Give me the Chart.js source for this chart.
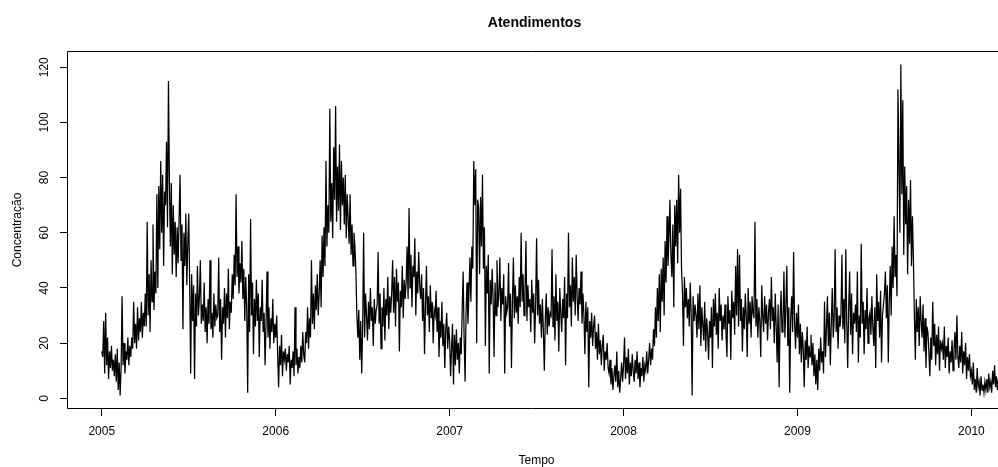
<!DOCTYPE html>
<html>
<head>
<meta charset="utf-8">
<title>Atendimentos</title>
<script src="https://cdn.jsdelivr.net/npm/chart.js@4.4.1/dist/chart.umd.min.js"></script>
<style>
    html, body { margin: 0; padding: 0; background: #fff; }
    canvas { display: block; }
</style>
</head>
<body>
<canvas id="serieChart" width="998" height="467"></canvas>
<script>
// atendimentos, leitura a cada 2 dias; um vetor por mes
var firstYear = 2005;

var y2005 = [
    [17, 15, 28, 9, 31, 12, 22, 7, 17, 11, 19, 10, 14, 8, 16],
    [6, 18, 3, 13, 1, 11, 37, 12, 20, 9, 17, 14, 22, 12, 19],
    [15, 22, 18, 35, 20, 27, 18, 33, 21, 29, 24, 35, 22, 31, 26],
    [38, 26, 64, 30, 45, 24, 50, 35, 63, 32, 46, 38, 74, 40, 77],
    [54, 86, 60, 81, 48, 75, 70, 93, 62, 115, 79, 55, 78, 45, 70],
    [52, 64, 44, 62, 49, 65, 81, 50, 63, 25, 60, 48, 67, 41, 56],
    [67, 40, 9, 45, 28, 41, 7, 38, 26, 48, 30, 36, 50, 27, 34],
    [28, 42, 24, 33, 20, 36, 27, 50, 25, 31, 22, 38, 26, 34, 29],
    [30, 51, 24, 36, 14, 33, 27, 40, 22, 38, 29, 47, 25, 35, 31],
    [45, 36, 52, 41, 74, 44, 55, 38, 49, 42, 57, 36, 47, 28, 44],
    [33, 2, 45, 24, 65, 30, 42, 16, 36, 26, 43, 28, 38, 15, 33],
    [28, 43, 24, 31, 12, 27, 46, 22, 33, 18, 29, 24, 36, 20, 27]
];

var y2006 = [
    [22, 30, 16, 4, 19, 12, 23, 8, 17, 14, 18, 10, 16, 13, 19],
    [5, 14, 11, 17, 8, 33, 12, 18, 9, 15, 11, 19, 13, 24, 16],
    [13, 24, 20, 33, 18, 29, 22, 50, 27, 38, 25, 41, 32, 45, 30],
    [38, 50, 33, 59, 44, 62, 48, 86, 55, 70, 60, 105, 64, 78, 58],
    [91, 72, 106, 64, 84, 68, 92, 61, 86, 70, 80, 63, 81, 58, 74],
    [65, 56, 74, 52, 63, 48, 60, 55, 46, 30, 22, 32, 14, 28, 9],
    [26, 60, 22, 38, 30, 21, 35, 25, 40, 28, 33, 19, 36, 27, 32],
    [34, 53, 27, 38, 18, 33, 26, 40, 21, 36, 30, 44, 25, 37, 31],
    [38, 50, 31, 44, 26, 47, 35, 42, 17, 39, 33, 48, 29, 43, 36],
    [42, 55, 36, 69, 40, 52, 33, 48, 44, 58, 30, 46, 38, 53, 41],
    [36, 45, 28, 40, 16, 33, 48, 30, 37, 24, 41, 29, 35, 20, 32],
    [30, 39, 24, 33, 15, 28, 22, 35, 19, 27, 11, 25, 31, 18, 26]
];

var y2007 = [
    [21, 8, 18, 27, 5, 23, 12, 25, 14, 20, 9, 22, 16, 32, 46],
    [22, 6, 31, 42, 27, 38, 51, 35, 55, 47, 86, 70, 83, 20, 72],
    [69, 45, 73, 55, 81, 47, 62, 19, 48, 38, 52, 9, 43, 34, 47],
    [36, 15, 42, 30, 50, 33, 38, 51, 28, 40, 34, 45, 9, 37, 31],
    [33, 49, 26, 38, 11, 35, 51, 29, 41, 31, 37, 27, 44, 33, 60],
    [35, 45, 30, 39, 57, 28, 41, 33, 36, 24, 43, 31, 38, 20, 34],
    [58, 30, 43, 27, 34, 22, 36, 25, 10, 29, 38, 23, 33, 26, 31],
    [30, 54, 26, 37, 21, 45, 28, 35, 17, 40, 31, 24, 36, 29, 44],
    [12, 38, 29, 60, 33, 41, 26, 51, 35, 44, 30, 52, 37, 28, 40],
    [34, 46, 27, 38, 30, 16, 35, 24, 33, 4, 28, 22, 31, 19, 26],
    [30, 18, 24, 14, 27, 16, 21, 12, 19, 23, 10, 17, 14, 20, 11],
    [9, 14, 5, 11, 3, 8, 12, 6, 17, 4, 10, 2, 7, 13, 6]
];

var y2008 = [
    [12, 22, 7, 15, 9, 18, 5, 13, 8, 16, 10, 6, 14, 9, 17],
    [7, 13, 4, 11, 8, 15, 6, 12, 10, 17, 9, 14, 20, 12, 18],
    [14, 25, 19, 33, 22, 40, 28, 45, 24, 47, 35, 51, 30, 57, 42],
    [66, 48, 58, 72, 52, 44, 63, 33, 70, 55, 72, 49, 81, 60, 76],
    [47, 38, 19, 44, 33, 40, 29, 36, 26, 42, 31, 1, 37, 28, 34],
    [30, 22, 38, 25, 41, 19, 33, 27, 21, 35, 17, 29, 24, 14, 28],
    [22, 33, 11, 36, 26, 38, 23, 31, 18, 40, 28, 34, 21, 30, 25],
    [34, 24, 15, 37, 27, 32, 14, 39, 29, 35, 23, 48, 30, 54, 26],
    [52, 28, 36, 17, 33, 25, 38, 30, 15, 40, 27, 35, 22, 37, 31],
    [29, 64, 26, 36, 22, 33, 28, 15, 41, 30, 24, 37, 27, 34, 21],
    [31, 36, 25, 44, 28, 33, 20, 38, 26, 13, 34, 4, 29, 39, 24],
    [27, 46, 22, 34, 48, 19, 33, 2, 29, 37, 24, 53, 28, 18, 31]
];

var y2009 = [
    [22, 34, 16, 27, 13, 24, 18, 4, 21, 14, 26, 11, 19, 15, 23],
    [12, 20, 8, 16, 5, 14, 3, 18, 10, 22, 13, 17, 9, 35, 15],
    [25, 37, 19, 31, 12, 27, 40, 22, 29, 54, 24, 33, 18, 30, 26],
    [30, 52, 25, 36, 20, 54, 28, 11, 33, 46, 23, 38, 16, 31, 27],
    [34, 24, 46, 13, 30, 22, 56, 27, 35, 16, 32, 25, 40, 20, 29],
    [31, 23, 37, 26, 19, 33, 11, 45, 28, 35, 22, 39, 13, 30, 34],
    [38, 46, 29, 41, 13, 35, 48, 30, 55, 40, 66, 44, 52, 37, 112],
    [85, 60, 121, 74, 108, 52, 84, 63, 77, 45, 72, 56, 79, 48, 66],
    [50, 30, 14, 36, 24, 33, 19, 37, 28, 22, 34, 17, 29, 11, 26],
    [24, 17, 8, 22, 14, 35, 19, 27, 12, 23, 16, 26, 10, 21, 18],
    [20, 14, 26, 11, 19, 15, 22, 9, 17, 13, 21, 10, 18, 24, 14],
    [30, 15, 11, 19, 13, 24, 9, 17, 12, 20, 7, 15, 10, 16, 8]
];

var y2010 = [
    [10, 5, 13, 3, 7, 2, 11, 4, 6, 1, 8, 3, 5, 2, 6],
    [3, 7, 2, 9, 4, 6, 2, 10, 5, 12, 4, 8, 3, 7, 5]
];

var tickYears = [2005, 2006, 2007, 2008, 2009, 2010];
var tickValues = [0, 20, 40, 60, 80, 100, 120];

var fontFam = "'Liberation Sans', Arial, Helvetica, sans-serif";

// cada mes ocupa 1/12 do ano, leituras espalhadas dentro dele
var points = [];
[y2005, y2006, y2007, y2008, y2009, y2010].forEach(function (months, k) {
    months.forEach(function (vals, m) {
        vals.forEach(function (v, j) {
            points.push({ x: firstYear + k + (m + j / vals.length) / 12, y: v });
        });
    });
});

// caixa do grafico e textos (titulo, eixos)
var moldura = {
    id: 'moldura',
    afterDraw: function (chart) {
        var ctx = chart.ctx;
        var a = chart.chartArea;
        ctx.save();
        ctx.strokeStyle = '#000';
        ctx.lineWidth = 1;
        ctx.beginPath();
        ctx.moveTo(chart.width, a.top + 0.5);
        ctx.lineTo(a.left + 0.5, a.top + 0.5);
        ctx.lineTo(a.left + 0.5, a.bottom - 0.5);
        ctx.lineTo(chart.width, a.bottom - 0.5);
        ctx.stroke();

        ctx.fillStyle = '#000';
        ctx.textAlign = 'center';
        ctx.textBaseline = 'alphabetic';
        ctx.font = 'bold 14px ' + fontFam;
        ctx.fillText('Atendimentos', 534.5, 27);

        ctx.font = '12px ' + fontFam;
        ctx.fillText('Tempo', 536.5, 464);

        ctx.translate(21, (a.top + a.bottom) / 2);
        ctx.rotate(-Math.PI / 2);
        ctx.fillText('Concentração', 0, 0);
        ctx.restore();
    }
};

new Chart(document.getElementById('serieChart'), {
    type: 'line',
    data: {
        datasets: [{
            data: points,
            borderColor: '#000',
            borderWidth: 1.25,
            pointRadius: 0,
            fill: false,
            tension: 0
        }]
    },
    options: {
        responsive: false,
        animation: false,
        layout: { padding: { top: 51, left: 0, right: 0, bottom: 0 } },
        plugins: {
            legend: { display: false },
            tooltip: { enabled: false }
        },
        scales: {
            x: {
                type: 'linear',
                min: 2004.8,
                max: 2010.153,
                afterBuildTicks: function (s) {
                    s.ticks = tickYears.map(function (v) { return { value: v }; });
                },
                afterFit: function (s) { s.height = 58; },
                grid: { drawOnChartArea: false, drawTicks: true, tickLength: 7, color: '#000', lineWidth: 1 },
                border: { display: false },
                ticks: {
                    padding: 8,
                    color: '#000',
                    autoSkip: false,
                    maxRotation: 0,
                    font: { size: 12, family: fontFam },
                    callback: function (v) { return String(v); }
                }
            },
            y: {
                type: 'linear',
                min: -3.88,
                max: 125.9,
                afterBuildTicks: function (s) {
                    s.ticks = tickValues.map(function (v) { return { value: v }; });
                },
                afterFit: function (s) { s.width = 67; },
                grid: { drawOnChartArea: false, drawTicks: true, tickLength: 7, color: '#000', lineWidth: 1 },
                border: { display: false },
                ticks: {
                    padding: 5,
                    color: '#000',
                    minRotation: 90,
                    maxRotation: 90,
                    crossAlign: 'center',
                    font: { size: 12, family: fontFam },
                    callback: function (v) { return String(v); }
                }
            }
        }
    },
    plugins: [moldura]
});
</script>
</body>
</html>
